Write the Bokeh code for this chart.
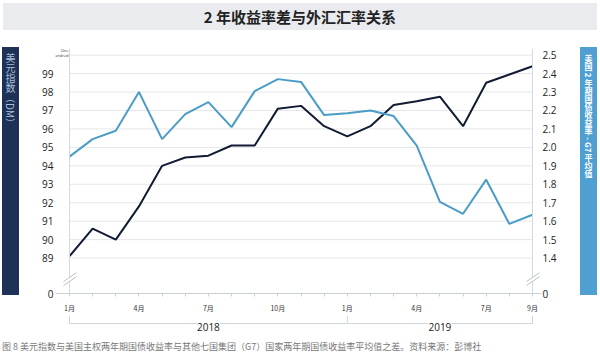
from bokeh.plotting import figure
from bokeh.layouts import column, row
from bokeh.models import Range1d, LinearAxis, FixedTicker, Label, PolyAnnotation, Span, Div
from bokeh.embed import file_html
from bokeh.resources import INLINE
from bokeh.core.properties import value

# ---------------- data ----------------
months = ["2018-01", "2018-02", "2018-03", "2018-04", "2018-05", "2018-06", "2018-07",
          "2018-08", "2018-09", "2018-10", "2018-11", "2018-12", "2019-01", "2019-02",
          "2019-03", "2019-04", "2019-05", "2019-06", "2019-07", "2019-08", "2019-09"]
dollar_index = [89.1, 90.6, 90.0, 91.8, 94.0, 94.45, 94.55, 95.1, 95.1, 97.1, 97.25,
                96.15, 95.6, 96.15, 97.3, 97.5, 97.75, 96.15, 98.5, 98.95, 99.4]
yield_spread = [1.95, 2.045, 2.09, 2.30, 2.045, 2.18, 2.245, 2.11, 2.305, 2.37, 2.355,
                2.175, 2.185, 2.20, 2.17, 2.01, 1.705, 1.64, 1.825, 1.585, 1.635]
month_tick_pos = [0, 3, 6, 9, 12, 15, 18, 20]
month_tick_labels = ["1月", "4月", "7月", "10月", "1月", "4月", "7月", "9月"]
years = ["2018", "2019"]
year_bounds = [0, 12, 20]
left_ticks = [89, 90, 91, 92, 93, 94, 95, 96, 97, 98, 99]
right_ticks = [1.4, 1.5, 1.6, 1.7, 1.8, 1.9, 2.0, 2.1, 2.2, 2.3, 2.4, 2.5]
grid_ticks = [89, 90, 91, 92, 93, 94, 95, 96, 97, 98, 99, 100]

title_text = "2 年收益率差与外汇汇率关系"
left_title_cjk = "美元指数"
left_title_latin = "（DM）"
right_title_parts = [("美国", True), (" 2 ", False), ("年期国债收益率", True), (" - G7 ", False), ("平均值", True)]
caption = "图 8 美元指数与美国主权两年期国债收益率与其他七国集团（G7）国家两年期国债收益率平均值之差。资料来源：彭博社"

x = list(range(len(months)))
N = len(months) - 1

# ---------------- geometry (px) ----------------
PXM = 23.15          # px per month
PXU = 18.6           # px per left-axis unit
ZERO_L = 87.08       # where the broken axis shows "0"
ZERO_R = (ZERO_L - 75) / 10   # right axis value r = (left - 75) / 10
X_START = -14 / PXM
X_END = N + 9 / PXM
Y_END = ZERO_L + 247 / PXU

TOTAL_W = 598
LEFT_W, RIGHT_W = 20, 20
FIG_W = TOTAL_W - LEFT_W - RIGHT_W      # 558
FIG_H = 285
BL, BR_, BT, BB = 35, 37, 18, 20
TITLE_H, CAP_H = 30, 23
ROW_H = FIG_H + 20

NAVY = "#111b33"
BLUE = "#4b9cc6"
GRID = "#e4e7eb"
AXIS = "#d3d9df"


def dxp(px):     # px offset from the first month -> data x
    return px / PXM


def dyp(px):     # px above the zero line -> left-axis data y
    return ZERO_L + px / PXU


x_range = Range1d(X_START, X_END)
p = figure(width=FIG_W, height=FIG_H, x_range=x_range, y_range=Range1d(ZERO_L, Y_END),
           output_backend="svg", toolbar_location=None, title=None, margin=0,
           min_border_left=BL, min_border_right=BR_, min_border_top=BT, min_border_bottom=BB)
p.outline_line_color = None
p.background_fill_color = "white"
p.border_fill_color = "white"
p.xgrid.visible = False
p.ygrid.visible = False

# grid lines between the two axes
p.segment(x0=[0] * len(grid_ticks), x1=[N] * len(grid_ticks), y0=grid_ticks, y1=grid_ticks,
          line_color=GRID, line_width=1)

# left axis (labels only; the line is drawn at the first month)
ya = p.yaxis[0]
ya.ticker = FixedTicker(ticks=[ZERO_L] + left_ticks)
ya.major_label_overrides = {ZERO_L: "0", **{t: str(t) for t in left_ticks}}
ya.axis_line_color = None
ya.major_tick_out = 0
ya.major_tick_in = 0
ya.minor_tick_out = 0
ya.minor_tick_in = 0
ya.major_label_text_font = "Open Sans"
ya.major_label_text_font_size = "10px"
ya.major_label_text_color = "#222222"
ya.major_label_standoff = 2

# right axis
p.extra_y_ranges = {"r": Range1d(ZERO_R, (Y_END - 75) / 10)}
ra = LinearAxis(y_range_name="r")
ra.ticker = FixedTicker(ticks=[ZERO_R] + right_ticks)
ra.major_label_overrides = {ZERO_R: "0", **{t: f"{t:.1f}" for t in right_ticks}}
ra.axis_line_color = None
ra.major_tick_out = 0
ra.major_tick_in = 0
ra.minor_tick_out = 0
ra.minor_tick_in = 0
ra.major_label_text_font = "Open Sans"
ra.major_label_text_font_size = "10px"
ra.major_label_text_color = "#222222"
ra.major_label_standoff = 1
p.add_layout(ra, "right")

# x axis
xa = p.xaxis[0]
xa.ticker = FixedTicker(ticks=x)
labels = {i: "" for i in x}
for pos, lab in zip(month_tick_pos, month_tick_labels):
    labels[pos] = lab
xa.major_label_overrides = labels
xa.axis_line_color = "#c9d0d7"
xa.major_tick_line_color = "#c9d0d7"
xa.major_tick_out = 3
xa.major_tick_in = 0
xa.minor_tick_out = 0
xa.minor_tick_in = 0
xa.major_label_text_font = "Noto Sans CJK SC"
xa.major_label_text_font_size = "7px"
xa.major_label_text_color = "#333333"
xa.major_label_standoff = 6

# vertical axis lines at first / last month
for loc in (0, N):
    p.add_layout(Span(location=loc, dimension="height", line_color=AXIS, line_width=1))

# data lines
p.line(x, dollar_index, line_color=NAVY, line_width=2)
p.line(x, yield_spread, y_range_name="r", line_color=BLUE, line_width=2)

# axis break marks
for cx in (0, N):
    p.add_layout(PolyAnnotation(xs=[cx + dxp(-6), cx + dxp(7), cx + dxp(7), cx + dxp(-6)],
                                ys=[dyp(12), dyp(21), dyp(17), dyp(8)],
                                fill_color="white", fill_alpha=1, line_alpha=0))
    for off in (0, 4):
        p.add_layout(PolyAnnotation(xs=[cx + dxp(-6), cx + dxp(7)],
                                    ys=[dyp(12 - off), dyp(21 - off)],
                                    fill_alpha=0, line_color="#b9c1c9", line_width=1, line_alpha=1))

# "One hundred" tiny label near the top of the left axis
p.add_layout(Label(x=dxp(-1), y=dyp(242), text="One\nhundred", text_align="right",
                   text_baseline="middle", text_font="Open Sans", text_font_size="4px",
                   text_line_height=1.0, text_color="#333333"))

# ---------------- year bracket strip ----------------
yb = figure(width=FIG_W, height=20, x_range=x_range, y_range=Range1d(20, 0),
            output_backend="svg", toolbar_location=None, title=None, margin=0,
            x_axis_type=None, y_axis_type=None,
            min_border_left=BL, min_border_right=BR_, min_border_top=0, min_border_bottom=0)
yb.outline_line_color = None
yb.xgrid.visible = False
yb.ygrid.visible = False
yb.background_fill_color = "white"
yb.border_fill_color = "white"
BRC = "#cfd5dc"
gap = dxp(11.5)
centers = [(year_bounds[k] + year_bounds[k + 1]) / 2 for k in range(len(years))]
x0s, x1s = [], []
for k in range(len(years)):
    x0s += [year_bounds[k], centers[k] + gap]
    x1s += [centers[k] - gap, year_bounds[k + 1]]
yb.segment(x0=x0s, x1=x1s, y0=[8] * len(x0s), y1=[8] * len(x0s), line_color=BRC, line_width=1)
yb.segment(x0=year_bounds, x1=year_bounds, y0=[0] * 3, y1=[8] * 3, line_color=BRC, line_width=1)
yb.text(x=centers, y=[11, 11], text=years, text_align="center", text_baseline="middle",
        text_font=value("Open Sans"), text_font_size=value("10px"), text_color="#222222")

# ---------------- HTML pieces ----------------
title_div = Div(width=TOTAL_W, height=TITLE_H, margin=0, text=(
    f'<div style="margin:3px 0 0 3px;width:{TOTAL_W - 4}px;height:27px;line-height:27px;'
    f'background:#e9ebee;text-align:center;font-family:\'Noto Sans CJK SC\';font-weight:bold;'
    f'font-size:15px;color:#222;">{title_text}</div>'))

VSTYLE = "writing-mode:vertical-rl;text-orientation:upright;"
left_html = (f'<span style="{VSTYLE}">{left_title_cjk}</span>'
             f'<span style="writing-mode:vertical-rl;text-orientation:sideways;">{left_title_latin}</span>')
left_div = Div(width=LEFT_W, height=ROW_H, margin=0, text=(
    f'<div style="margin:17px 0 0 2px;width:17px;height:248px;background:#1e3157;color:#a9bddb;'
    f'font-family:\'Noto Sans CJK SC\';font-size:10px;line-height:17px;{VSTYLE}'
    f'padding-top:6px;box-sizing:border-box;overflow:hidden;">{left_html}</div>'))

right_html = "".join(
    f'<span style="writing-mode:vertical-rl;text-orientation:{"upright" if up else "sideways"};">{t}</span>'
    for t, up in right_title_parts)
right_div = Div(width=RIGHT_W, height=ROW_H, margin=0, text=(
    f'<div style="margin:17px 0 0 2px;width:17px;height:248px;background:#4f9fd3;color:#ffffff;'
    f'font-family:\'Noto Sans CJK SC\';font-weight:bold;font-size:8px;line-height:17px;{VSTYLE}'
    f'padding-top:8px;box-sizing:border-box;overflow:hidden;">{right_html}</div>'))

caption_div = Div(width=TOTAL_W, height=CAP_H, margin=0, text=(
    f'<div style="margin:6px 0 0 2px;line-height:12px;font-family:\'Noto Sans CJK SC\';font-size:9px;'
    f'color:#777;white-space:nowrap;">{caption}</div>'))

layout = column(title_div, row(left_div, column(p, yb, margin=0, spacing=0), right_div,
                               margin=0, spacing=0),
                caption_div, margin=0, spacing=0)

open("out.html", "w").write(file_html(layout, INLINE))
